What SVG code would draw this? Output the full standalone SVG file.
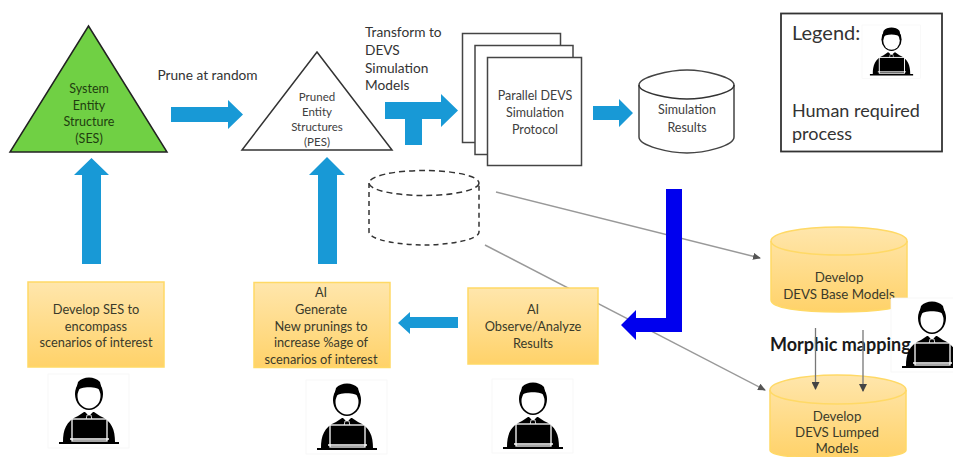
<svg xmlns="http://www.w3.org/2000/svg" width="953" height="457" viewBox="0 0 953 457">
<style>
text{font-family:Lato,"Liberation Sans",sans-serif;text-anchor:middle;font-size:12.5px;fill:#404040}
.d{fill:#3a3a2a;font-size:12.8px}
.m{fill:#3a3a2a;font-size:13.3px}
.g{fill:#1f3d10}
.s{font-size:11.5px}
.l{text-anchor:start;font-size:13.7px;fill:#333}
.big{text-anchor:start;font-size:18px;fill:#333}
.o{fill:none;stroke:#333;stroke-width:1.5}
.w{fill:#fff;stroke:#444;stroke-width:1.5}
.y{fill:url(#yg);stroke:#ffd966;stroke-width:1.5}
.yo{fill:none;stroke:#ffd966;stroke-width:1.5}
.b{fill:#1899d6}
.t{fill:none;stroke:#999;stroke-width:1.5}
.n{fill:none;stroke:#777;stroke-width:1.3}
.bg{fill:#fff;stroke:#f4f4f4;stroke-width:.7}
</style>
<defs>
<linearGradient id="yg" x1="0" y1="0" x2="0" y2="1"><stop offset="0" stop-color="#ffe6ac"/><stop offset="1" stop-color="#ffd269"/></linearGradient>
<marker id="ag" markerWidth="8" markerHeight="7" refX="7" refY="3.5" orient="auto" markerUnits="userSpaceOnUse"><path d="M0 0L8 3.500L0 7Z" fill="#555"/></marker>
<marker id="ad" markerWidth="8" markerHeight="8" refX="7" refY="4" orient="auto" markerUnits="userSpaceOnUse"><path d="M0 0L8 4L0 8Z" fill="#444"/></marker>
<g id="person">
<path d="M15 68C15 56 18 47 30 42L36 38H46L52 42C64 47 67 56 67 68Z" fill="#000"/>
<path d="M36 37L41 42L46 37Z" fill="#fff"/>
<path d="M39 41H43L44 46H38Z" fill="#000" stroke="#fff" stroke-width=".8"/>
<ellipse cx="41" cy="20" rx="14" ry="16" fill="#000"/>
<ellipse cx="41" cy="22" rx="11.500" ry="12.500" fill="#fff"/>
<path d="M28 17C33 12 49 12 54 17L52 8C47 2 35 2 30 8Z" fill="#000"/>
<rect x="24" y="45" width="35" height="22" fill="#000" stroke="#fff" stroke-width="1.300"/>
<path d="M11 69H71" stroke="#000" stroke-width="2"/>
<path d="M22 65H61" stroke="#fff" stroke-width="1.300"/>
</g>
<g id="person-box">
<rect class="bg" width="81" height="74"/>
<use href="#person"/>
</g>
</defs>

<g id="connectors">
<path class="t" d="M496 192L760 258" marker-end="url(#ag)"/>
<path class="t" d="M485 245L765 390" marker-end="url(#ag)"/>
<path class="b" d="M171 107H228V100L243 114.500L228 129V122H171Z"/>
<path class="b" d="M385 102H441V94L458 110.500L441 127V119H422V145H405V119H385Z"/>
<path class="b" d="M593 106H619V99L633 113L619 127V120H593Z"/>
<path class="b" d="M82 264V175H74L91.500 158L109 175H101V264Z"/>
<path class="b" d="M318 264V175H309L327 157L345 175H337V264Z"/>
<path class="b" d="M458 317H410V312L398 323L410 334V328H458Z"/>
<path d="M666 189H682V332H636V340L621 325L636 310V318H666Z" fill="#0000ee"/>
</g>

<g id="ses">
<path d="M88.500 26L167 152H10Z" fill="#70d044" stroke="#222" stroke-width="1.5"/>
<text class="g" x="89" y="93">System</text>
<text class="g" x="89" y="110">Entity</text>
<text class="g" x="89" y="126">Structure</text>
<text class="g" x="89" y="143">(SES)</text>
</g>
<g id="pes">
<path d="M317 52L392 150H242Z" fill="#fff" stroke="#333" stroke-width="1.5"/>
<text class="s" x="317" y="101">Pruned</text>
<text class="s" x="317" y="116">Entity</text>
<text class="s" x="317" y="131">Structures</text>
<text class="s" x="317" y="146">(PES)</text>
</g>
<text id="prune-label" x="207.500" y="80" style="font-size:13.7px;fill:#333">Prune at random</text>
<g id="transform-label">
<text class="l" x="365" y="37">Transform to</text>
<text class="l" x="365" y="55">DEVS</text>
<text class="l" x="365" y="73">Simulation</text>
<text class="l" x="365" y="90">Models</text>
</g>
<g id="protocol">
<rect class="w" x="462.500" y="33.500" width="98" height="109"/>
<rect class="w" x="475" y="45.500" width="98" height="109"/>
<rect class="w" x="487.500" y="57.500" width="94" height="108"/>
<text x="535" y="100">Parallel DEVS</text>
<text x="535" y="117">Simulation</text>
<text x="535" y="134">Protocol</text>
</g>
<g id="results">
<path class="w" d="M639 85C639 77 670 70 687 70C704 70 734 77 734 85V137C734 146 704 153 687 153C670 153 639 146 639 137Z"/>
<path class="o" d="M639 85C639 93 670 99 687 99C704 99 734 93 734 85"/>
<text x="687" y="114">Simulation</text>
<text x="687" y="132">Results</text>
</g>
<g id="dashed-store">
<ellipse cx="424" cy="183" rx="55" ry="12.500" fill="none" stroke="#333" stroke-width="1.500" stroke-dasharray="6 4"/>
<path d="M369 183V232C369 240 400 245 424 245C448 245 479 240 479 232V183" fill="none" stroke="#333" stroke-width="1.500" stroke-dasharray="5 4"/>
</g>
<g id="legend">
<rect x="781" y="13.500" width="161" height="138" fill="#fff" stroke="#333" stroke-width="1.800"/>
<text class="big" x="792" y="40" style="font-size:20px">Legend:</text>
<use href="#person-box" transform="translate(862 25) scale(0.72)"/>
<text class="big" x="792" y="117">Human required</text>
<text class="big" x="792" y="140">process</text>
</g>
<g id="develop-ses">
<rect class="y" x="28" y="282" width="136" height="85"/>
<text class="d" x="96" y="314">Develop SES to</text>
<text class="d" x="96" y="331">encompass</text>
<text class="d" x="96" y="347">scenarios of interest</text>
</g>
<g id="ai-generate">
<rect class="y" x="254" y="282.500" width="136" height="85"/>
<text class="d" x="321" y="297">AI</text>
<text class="d" x="321" y="314">Generate</text>
<text class="d" x="321" y="331">New prunings to</text>
<text class="d" x="321" y="347">increase %age of</text>
<text class="d" x="321" y="364">scenarios of interest</text>
</g>
<g id="ai-observe">
<rect class="y" x="468" y="288" width="130" height="76"/>
<text class="d" x="533" y="314">AI</text>
<text class="d" x="533" y="331">Observe/Analyze</text>
<text class="d" x="533" y="348">Results</text>
</g>
<g id="base-models">
<path class="y" d="M771 241C771 233 800 227 839 227C878 227 907 233 907 241V300C907 308 878 312 839 312C800 312 771 308 771 300Z"/>
<path class="yo" d="M771 241C771 249 800 255 839 255C878 255 907 249 907 241"/>
<text class="m" x="839" y="282">Develop</text>
<text class="m" x="839" y="299">DEVS Base Models</text>
</g>
<g id="lumped-models">
<path class="y" d="M770 390C770 382 800 375 837 375C875 375 906 382 906 390V450C906 456 880 458 837 458C795 458 770 456 770 450Z"/>
<path class="yo" d="M770 390C770 398 800 404 837 404C875 404 906 398 906 390"/>
<text class="m" x="837" y="421">Develop</text>
<text class="m" x="837" y="437">DEVS Lumped</text>
<text class="m" x="837" y="453">Models</text>
</g>
<g id="person-ses"><use href="#person-box" x="48" y="374"/></g>
<g id="person-generate"><use href="#person-box" x="306" y="380"/></g>
<g id="person-observe"><use href="#person-box" x="492" y="379"/></g>
<g id="person-models">
<rect class="bg" x="891" y="298" width="81" height="74"/>
<text id="morphic-label" x="770" y="351" style="text-anchor:start;font-size:18px;font-weight:700;fill:#1a1a1a">Morphic mapping</text>
<use href="#person" x="891" y="298"/>
</g>
<g id="morphic-arrows">
<path class="n" d="M815.500 328V389" marker-end="url(#ad)"/>
<path class="n" d="M863 330V391" marker-end="url(#ad)"/>
</g>
</svg>
